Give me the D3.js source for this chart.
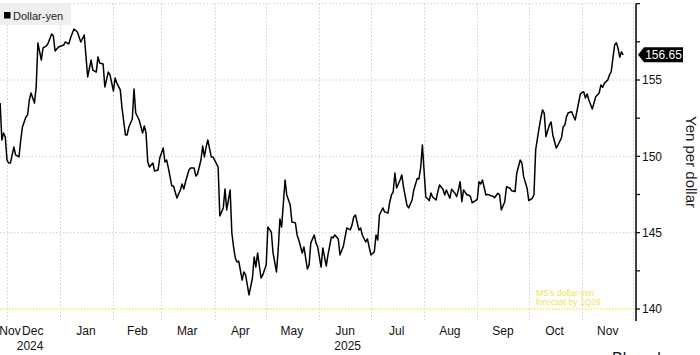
<!DOCTYPE html>
<html><head><meta charset="utf-8">
<script src="https://cdn.jsdelivr.net/npm/d3@7"></script>
<style>
html,body{margin:0;padding:0;background:#fff;}
svg{display:block;font-family:"Liberation Sans",Arial,sans-serif;}
</style></head>
<body><svg id="c" width="700" height="355"></svg>
<script>
// ---- data ----
const dates = ["2024-11-27","2024-11-28","2024-11-29","2024-11-30","2024-12-01","2024-12-02","2024-12-03","2024-12-05","2024-12-06","2024-12-08",
"2024-12-09","2024-12-10","2024-12-12","2024-12-13","2024-12-14","2024-12-15","2024-12-17","2024-12-18","2024-12-19","2024-12-21",
"2024-12-22","2024-12-24","2024-12-25","2024-12-27","2024-12-28","2024-12-29","2024-12-31","2025-01-03","2025-01-04","2025-01-06",
"2025-01-07","2025-01-09","2025-01-11","2025-01-13","2025-01-15","2025-01-17","2025-01-19","2025-01-20","2025-01-22","2025-01-23",
"2025-01-24","2025-01-26","2025-01-27","2025-01-29","2025-01-30","2025-02-01","2025-02-02","2025-02-03","2025-02-05","2025-02-06",
"2025-02-08","2025-02-09","2025-02-10","2025-02-12","2025-02-13","2025-02-14","2025-02-16","2025-02-18","2025-02-19","2025-02-20",
"2025-02-21","2025-02-22","2025-02-24","2025-02-25","2025-02-27","2025-02-28","2025-03-02","2025-03-03","2025-03-04","2025-03-05",
"2025-03-07","2025-03-08","2025-03-10","2025-03-12","2025-03-13","2025-03-14","2025-03-15","2025-03-17","2025-03-18","2025-03-20",
"2025-03-21","2025-03-22","2025-03-24","2025-03-25","2025-03-26","2025-03-27","2025-03-28","2025-03-30","2025-03-31","2025-04-03",
"2025-04-04","2025-04-06","2025-04-07","2025-04-08","2025-04-10","2025-04-11","2025-04-12","2025-04-13","2025-04-14","2025-04-15",
"2025-04-17","2025-04-18","2025-04-19","2025-04-21","2025-04-23","2025-04-24","2025-04-25","2025-04-26","2025-04-28","2025-04-29",
"2025-05-01","2025-05-02","2025-05-04","2025-05-05","2025-05-07","2025-05-08","2025-05-09","2025-05-10","2025-05-12","2025-05-13",
"2025-05-15","2025-05-16","2025-05-18","2025-05-19","2025-05-20","2025-05-22","2025-05-23","2025-05-25","2025-05-26","2025-05-27",
"2025-05-29","2025-05-30","2025-05-31","2025-06-02","2025-06-03","2025-06-05","2025-06-06","2025-06-08","2025-06-09","2025-06-10",
"2025-06-12","2025-06-13","2025-06-15","2025-06-16","2025-06-17","2025-06-19","2025-06-20","2025-06-21","2025-06-22","2025-06-24",
"2025-06-25","2025-06-26","2025-06-28","2025-06-29","2025-06-30","2025-07-01","2025-07-03","2025-07-04","2025-07-05","2025-07-06",
"2025-07-08","2025-07-09","2025-07-11","2025-07-12","2025-07-13","2025-07-14","2025-07-15","2025-07-16","2025-07-18","2025-07-19",
"2025-07-20","2025-07-22","2025-07-23","2025-07-25","2025-07-26","2025-07-28","2025-07-29","2025-07-30","2025-07-31","2025-08-02",
"2025-08-04","2025-08-05","2025-08-06","2025-08-08","2025-08-09","2025-08-10","2025-08-12","2025-08-13","2025-08-14","2025-08-16",
"2025-08-17","2025-08-19","2025-08-20","2025-08-21","2025-08-22","2025-08-23","2025-08-24","2025-08-26","2025-08-27","2025-08-28",
"2025-08-29","2025-08-31","2025-09-01","2025-09-02","2025-09-03","2025-09-04","2025-09-06","2025-09-07","2025-09-09","2025-09-10",
"2025-09-11","2025-09-13","2025-09-14","2025-09-15","2025-09-17","2025-09-18","2025-09-20","2025-09-21","2025-09-23","2025-09-24",
"2025-09-26","2025-09-27","2025-09-28","2025-09-30","2025-10-01","2025-10-03","2025-10-04","2025-10-05","2025-10-07","2025-10-08",
"2025-10-09","2025-10-10","2025-10-11","2025-10-13","2025-10-14","2025-10-15","2025-10-17","2025-10-18","2025-10-20","2025-10-21",
"2025-10-22","2025-10-23","2025-10-24","2025-10-26","2025-10-27","2025-10-28","2025-10-29","2025-10-31","2025-11-01","2025-11-02",
"2025-11-03","2025-11-04","2025-11-05","2025-11-07","2025-11-08","2025-11-09","2025-11-11","2025-11-12","2025-11-13","2025-11-14",
"2025-11-16","2025-11-17","2025-11-18","2025-11-19","2025-11-20","2025-11-21","2025-11-22","2025-11-23","2025-11-24","2025-11-25"];
const dollarYen = [153.49,151.07,151.53,151.27,149.76,149.56,149.56,150.61,150.09,149.96,
151.07,151.92,152.58,152.71,153.69,154.15,153.49,154.54,157.42,156.31,
157.10,157.23,157.42,158.01,157.88,156.90,157.16,157.29,157.49,157.36,
157.75,158.34,158.14,157.49,157.95,155.20,156.31,155.65,155.52,156.51,
156.11,156.05,154.54,155.52,155.33,154.28,155.13,154.80,154.35,153.17,
151.40,151.40,151.92,152.45,154.41,152.84,152.38,151.53,151.99,151.53,
149.63,149.30,149.56,149.04,149.11,149.89,150.55,149.63,149.76,149.24,
148.06,148.06,147.27,147.80,148.19,147.86,148.32,149.11,149.24,149.24,
148.71,148.84,149.76,150.68,149.96,150.61,151.07,149.96,149.96,149.30,
146.09,146.62,147.86,146.49,147.80,144.98,144.06,143.34,143.08,143.14,
141.90,142.43,142.23,140.92,142.03,143.41,142.75,143.67,142.03,142.23,
142.88,145.37,145.04,143.67,142.43,143.87,145.90,145.37,148.45,147.47,
146.81,145.70,145.64,144.85,144.52,143.67,144.06,142.62,142.88,144.33,
144.85,144.33,144.06,142.75,144.00,142.82,143.54,144.72,144.66,144.85,
144.59,143.54,144.13,144.72,145.31,145.18,145.50,146.03,146.16,145.18,
145.31,144.85,144.39,144.59,144.06,143.54,143.74,144.85,144.52,146.16,
146.62,146.36,146.29,147.01,147.47,147.67,148.91,147.93,148.45,148.78,
147.99,146.81,146.62,147.14,147.80,148.55,148.52,149.24,150.74,147.34,
147.10,147.60,147.34,147.14,147.69,148.12,147.84,147.47,147.80,147.25,
147.84,147.58,147.36,147.80,148.34,147.03,147.80,147.47,147.47,147.36,
146.96,147.10,147.19,148.34,148.19,148.45,147.47,147.51,147.42,147.40,
147.29,147.58,147.47,146.49,147.03,148.01,147.91,147.75,147.69,148.89,
149.76,149.55,148.67,147.91,147.10,147.25,147.47,150.42,151.86,152.51,
153.04,152.82,151.29,152.05,152.25,151.40,150.55,150.74,151.20,151.92,
152.05,152.60,152.86,152.92,152.64,152.38,152.92,154.08,154.17,154.23,
153.82,154.08,153.69,153.10,153.49,153.91,154.15,154.67,154.52,154.78,
155.00,155.33,155.54,156.42,157.29,157.44,157.08,156.49,156.85,156.65];
const monthStarts = ["2024-12-01","2025-01-01","2025-02-01","2025-03-01","2025-04-01","2025-05-01","2025-06-01","2025-07-01","2025-08-01","2025-09-01","2025-10-01","2025-11-01","2025-12-01"];
const monthLabels = [["Nov","2024-11-16"],["Dec","2024-12-16"],["Jan","2025-01-16"],["Feb","2025-02-15"],["Mar","2025-03-16"],["Apr","2025-04-16"],["May","2025-05-16"],["Jun","2025-06-16"],["Jul","2025-07-16"],["Aug","2025-08-16"],["Sep","2025-09-16"],["Oct","2025-10-16"],["Nov","2025-11-16"]];
const yearLabels = [["2024","2024-11-26","2025-01-01"],["2025","2025-01-01","2025-12-02"]];
const yMajor = [155,150,145,140];
const yMinor = [157.5,152.5,147.5,142.5];
const forecast = 140;
const lastValue = "156.65";

// ---- layout ----
const parse = d3.timeParse("%Y-%m-%d");
const data = dates.map((d,i)=>({date:parse(d), v:dollarYen[i]}));
const axisX=636;
const x = d3.scaleTime().domain([parse("2024-12-01"),parse("2025-11-01")]).range([7,582]);
const y = d3.scaleLinear().domain([140,155]).range([309,80]);
const yTop = y(160), yBot = 321;

const svg = d3.select("#c");
const grid = svg.append("g");
grid.selectAll("line.h").data([160,155,150,145]).join("line")
  .attr("x1",0).attr("x2",axisX).attr("y1",d=>y(d)).attr("y2",d=>y(d))
  .attr("stroke","#cfcfcf").attr("stroke-width",1).attr("stroke-dasharray","1.5,2");
grid.selectAll("line.v").data(monthStarts.map(parse)).join("line")
  .attr("x1",d=>Math.round(x(d))+0.5).attr("x2",d=>Math.round(x(d))+0.5).attr("y1",yTop).attr("y2",yBot)
  .attr("stroke","#cfcfcf").attr("stroke-width",1).attr("stroke-dasharray","1.5,2");

// forecast line
svg.append("line").attr("x1",0).attr("x2",axisX).attr("y1",y(forecast)).attr("y2",y(forecast))
  .attr("stroke","#f4ec5c").attr("stroke-width",1.5).attr("stroke-dasharray","1.5,1.5");
const ann = svg.append("text").attr("fill","#efe35a").attr("font-size",8.5);
ann.append("tspan").attr("x",536).attr("y",y(forecast)-13).text("MS's dollar-yen");
ann.append("tspan").attr("x",536).attr("y",y(forecast)-4.5).text("forecast by 1Q26");

// line
const line = d3.line().x(d=>x(d.date)).y(d=>y(d.v));
svg.append("path").datum(data).attr("d",line).attr("fill","none")
  .attr("stroke","#000").attr("stroke-width",1.5).attr("stroke-linejoin","round");

// right axis
const axisG = svg.append("g").attr("transform",`translate(${axisX},0)`);
axisG.append("line").attr("x1",0).attr("x2",0).attr("y1",yTop).attr("y2",yBot).attr("stroke","#000").attr("stroke-width",1.5);
axisG.selectAll("line.t").data([160,...yMajor,...yMinor]).join("line")
  .attr("x1",0).attr("x2",4).attr("y1",d=>y(d)).attr("y2",d=>y(d)).attr("stroke","#000").attr("stroke-width",1.2);
axisG.selectAll("text.t").data(yMajor).join("text")
  .attr("x",6).attr("y",d=>y(d)).attr("dy","0.36em").attr("font-size",12).attr("fill","#111").text(d=>d);

// last value tag
const ly = y(+lastValue);
svg.append("path").attr("d",`M${axisX+2},${ly} L${axisX+8},${ly-7.5} L${axisX+47},${ly-7.5} L${axisX+47},${ly+7.5} L${axisX+8},${ly+7.5} Z`).attr("fill","#000");
svg.append("text").attr("x",axisX+27.5).attr("y",ly).attr("dy","0.36em").attr("text-anchor","middle")
  .attr("font-size",12).attr("fill","#fff").text(lastValue);

// y title
svg.append("text").attr("transform",`translate(686,162) rotate(90)`).attr("text-anchor","middle")
  .attr("font-size",15).attr("fill","#222").text("Yen per dollar");

// month labels
svg.selectAll("text.m").data(monthLabels).join("text")
  .attr("x",d=>Math.max(x(parse(d[1])),10)).attr("y",335).attr("text-anchor","middle")
  .attr("font-size",12).attr("fill","#111").text(d=>d[0]);
svg.selectAll("text.yr").data(yearLabels).join("text")
  .attr("x",d=>(Math.max(x(parse(d[1])),0)+Math.min(x(parse(d[2])),axisX))/2).attr("y",350).attr("text-anchor","middle")
  .attr("font-size",12).attr("fill","#111").text(d=>d[0]);

// legend
svg.append("rect").attr("x",0).attr("y",3).attr("width",71).attr("height",22).attr("fill","#efefef");
svg.append("rect").attr("x",4).attr("y",12).attr("width",6.5).attr("height",6.5).attr("fill","#000");
svg.append("text").attr("x",13).attr("y",19.5).attr("font-size",11).attr("fill","#222").text("Dollar-yen");

// source mark (cut off at the bottom edge, as in the reference)
svg.append("text").attr("x",612).attr("y",364).attr("font-size",16).attr("fill","#111").text("Bloomberg");
</script></body></html>
